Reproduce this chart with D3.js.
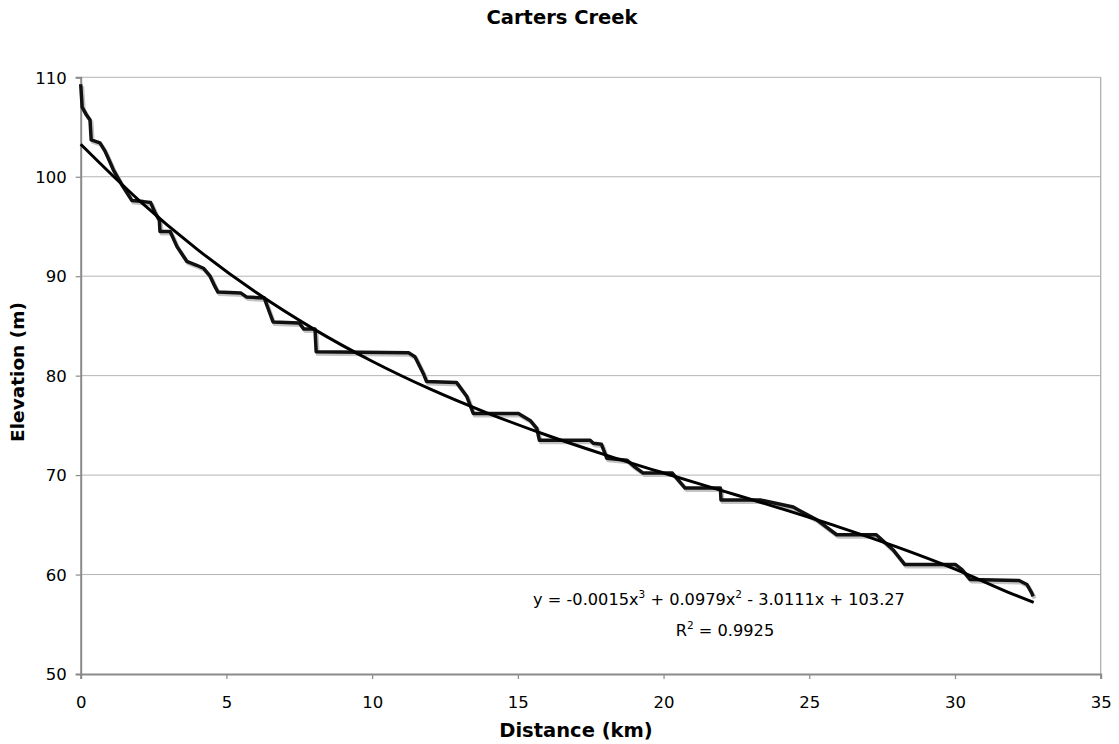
<!DOCTYPE html>
<html>
<head>
<meta charset="utf-8">
<script src="https://cdn.jsdelivr.net/npm/d3@7"></script>
<style>
  html, body { margin: 0; padding: 0; background: #fff; }
  svg { display: block; }
  text { font-family: "DejaVu Sans", Verdana, sans-serif; }
</style>
</head>
<body>
<svg id="chart" width="1119" height="744"></svg>
<script>
// ---- data ----
const profileKm = [0, 0.05, 0.2, 0.32, 0.36, 0.66, 0.83, 1.0, 1.12, 1.41, 1.76, 2.15, 2.4, 2.55, 2.7, 2.72, 3.07, 3.3, 3.64, 3.98, 4.21, 4.44, 4.6, 4.71, 5.5, 5.7, 6.3, 6.5, 6.6, 7.5, 7.65, 8.04, 8.08, 11.25, 11.47, 11.76, 11.87, 12.9, 13.25, 13.47, 15.02, 15.42, 15.65, 15.74, 17.48, 17.59, 17.87, 18.05, 18.74, 19.02, 19.3, 20.3, 20.74, 21.95, 21.97, 23.31, 24.45, 24.63, 25.26, 25.94, 27.3, 27.87, 28.28, 30.02, 30.24, 30.52, 32.2, 32.47, 32.64, 32.68];
const profileElev = [109.3, 107.0, 106.2, 105.7, 103.7, 103.4, 102.6, 101.5, 100.7, 99.2, 97.6, 97.5, 97.4, 96.4, 95.6, 94.5, 94.5, 93.0, 91.5, 91.1, 90.8, 90.0, 89.0, 88.4, 88.3, 87.9, 87.8, 86.2, 85.4, 85.3, 84.7, 84.7, 82.4, 82.3, 81.9, 80.2, 79.4, 79.3, 77.9, 76.2, 76.2, 75.5, 74.7, 73.5, 73.5, 73.2, 73.1, 71.7, 71.5, 70.8, 70.2, 70.2, 68.7, 68.7, 67.5, 67.5, 66.8, 66.5, 65.5, 64.0, 64.0, 62.5, 61.0, 61.0, 60.5, 59.5, 59.4, 59.0, 58.1, 57.8];

const trendKm = [0, 2, 4, 6, 8, 10, 12, 14, 16, 18, 20, 22, 24, 26, 28, 30, 32, 32.7];
const trendElev = [103.27, 97.63, 92.70, 88.40, 84.68, 81.45, 78.64, 76.19, 74.01, 72.04, 70.21, 68.44, 66.66, 64.80, 62.78, 60.55, 58.01, 57.2];

const xTicks = [0, 5, 10, 15, 20, 25, 30, 35];
const yTicks = [50, 60, 70, 80, 90, 100, 110];

const titleText = "Carters Creek";
const xTitle = "Distance (km)";
const yTitle = "Elevation (m)";
const eqLine1 = ["y = -0.0015x", "3", " + 0.0979x", "2", " - 3.0111x + 103.27"];
const eqLine2 = ["R", "2", " = 0.9925"];

// ---- layout ----
const svg = d3.select("#chart");
const L = 80.7, R = 1100.7, T = 77.3, B = 674;

const x = d3.scaleLinear().domain([0, 35]).range([L, R]);
const y = d3.scaleLinear().domain([50, 110]).range([B, T]);

// gridlines
svg.append("g")
  .selectAll("line")
  .data(yTicks.filter(d => d > 50))
  .join("line")
  .attr("x1", L).attr("x2", R)
  .attr("y1", d => y(d)).attr("y2", d => y(d))
  .attr("stroke", "#b4b4b4").attr("stroke-width", 1);

// right border
svg.append("line")
  .attr("x1", R).attr("x2", R).attr("y1", T).attr("y2", B)
  .attr("stroke", "#a8a8a8").attr("stroke-width", 1.2);

// axes
const xAxis = d3.axisBottom(x).tickValues(xTicks).tickSize(5).tickPadding(17).tickFormat(d3.format("d"));
const yAxis = d3.axisLeft(y).tickValues(yTicks).tickSize(5).tickPadding(9).tickFormat(d3.format("d"));

const gx = svg.append("g").attr("transform", `translate(0,${B})`).call(xAxis);
const gy = svg.append("g").attr("transform", `translate(${L},0)`).call(yAxis);
[gx, gy].forEach(g => {
  g.select(".domain").attr("stroke", "#8a8a8a").attr("stroke-width", 2);
  g.selectAll(".tick line").attr("stroke", "#8a8a8a").attr("stroke-width", 1.2);
  g.selectAll(".tick text").attr("fill", "#000").style("font-size", "16.5px")
    .style("font-family", '"DejaVu Sans", Verdana, sans-serif');
});
gy.selectAll(".tick text").attr("dy", "0.35em");

// profile line (shadow + main)
const line = d3.line().x((d, i) => x(profileKm[i])).y((d, i) => y(profileElev[i]));
svg.append("path")
  .datum(profileElev)
  .attr("d", line)
  .attr("transform", "translate(1.5,2)")
  .attr("fill", "none").attr("stroke", "#c4c4c4").attr("stroke-width", 4)
  .attr("stroke-linejoin", "round");
svg.append("path")
  .datum(profileElev)
  .attr("d", line)
  .attr("fill", "none").attr("stroke", "#111").attr("stroke-width", 3.5)
  .attr("stroke-linejoin", "round");

// trendline
const tline = d3.line().curve(d3.curveMonotoneX)
  .x((d, i) => x(trendKm[i])).y((d, i) => y(trendElev[i]));
svg.append("path")
  .datum(trendElev)
  .attr("d", tline)
  .attr("fill", "none").attr("stroke", "#000").attr("stroke-width", 3);

// equation text
function supText(parts, xPos, yPos) {
  const t = svg.append("text").attr("x", xPos).attr("y", yPos)
    .attr("text-anchor", "middle").style("font-size", "16.2px").attr("fill", "#000");
  parts.forEach((p, i) => {
    const ts = t.append("tspan").text(p);
    if (i % 2 === 1) {
      ts.style("font-size", "10.5px").attr("dy", "-0.7em");
    } else if (i > 0) {
      ts.attr("dy", "0.45em");
    }
  });
}
supText(eqLine1, 719, 605);
supText(eqLine2, 725, 636);

// titles
svg.append("text").attr("x", 562).attr("y", 24).attr("text-anchor", "middle")
  .style("font-size", "19.5px").style("font-weight", "bold").text(titleText);
svg.append("text").attr("x", 576).attr("y", 737).attr("text-anchor", "middle")
  .style("font-size", "19.5px").style("font-weight", "bold").text(xTitle);
svg.append("text").attr("transform", "translate(24,372) rotate(-90)").attr("text-anchor", "middle")
  .style("font-size", "18.5px").style("font-weight", "bold").text(yTitle);
</script>
</body>
</html>
